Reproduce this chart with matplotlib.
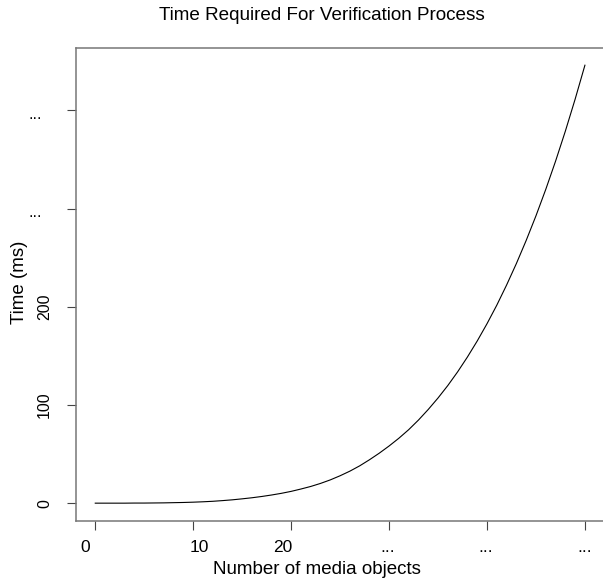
import matplotlib
matplotlib.use("Agg")
import matplotlib.pyplot as plt
import matplotlib.transforms as mtransforms

# data
n_objects = list(range(0, 51))
time_ms = [0, 0, 0, 0, 0.1, 0.1, 0.2, 0.3, 0.5, 0.7,
           1.0, 1.4, 1.9, 2.6, 3.4, 4.4, 5.5, 6.8, 8.3, 10.0,
           12.0, 14.4, 17.0, 20.1, 23.7, 27.9, 32.6, 38.0, 44.2, 50.9,
           58.2, 66.1, 74.8, 84.6, 95.4, 107.1, 119.8, 133.7, 148.8, 165.1,
           182.7, 201.6, 222.1, 244.0, 267.5, 292.6, 319.5, 348.2, 378.8, 411.4,
           446.0]

x_ticks = [0, 10, 20, 30, 40, 50]
x_tick_labels = ['0', '10', '20', '...', '...', '...']
y_ticks = [0, 100, 200, 300, 400]
y_tick_labels = ['0', '100', '200', '...', '...']

# small pixel shifts of the x tick labels, as in the reference
x_label_shift = [-10, 6, -8, -1, -1, 0]

plt.rcParams['font.family'] = ['Liberation Sans', 'DejaVu Sans']

fig = plt.figure(figsize=(6.03, 5.83), dpi=100)
ax = fig.add_axes([0.1255, 0.1069, 0.877, 0.8113])

ax.plot(n_objects, time_ms, color='black', linewidth=0.8)

ax.set_xlim(-2, 52)
ax.set_ylim(-17.84, 463.84)

for s in ['left', 'bottom', 'top']:
    ax.spines[s].set_color('#777777')
    ax.spines[s].set_linewidth(1.1)
ax.spines['right'].set_visible(False)

ax.set_xticks(x_ticks)
ax.set_yticks(y_ticks)
ax.set_xticklabels([])
ax.set_yticklabels([])
ax.tick_params(direction='out', length=6.5, width=0.8, color='#444444')

# x tick labels
for xv, lab, dx in zip(x_ticks, x_tick_labels, x_label_shift):
    tr = mtransforms.offset_copy(ax.get_xaxis_transform(), fig=fig, x=dx, y=-27, units='dots')
    ax.text(xv, 0, lab, transform=tr, ha='center', va='center', fontsize=12.5)

# y tick labels: numbers rotated, dots left flat
for yv, lab in zip(y_ticks, y_tick_labels):
    if lab == '...':
        tr = mtransforms.offset_copy(ax.get_yaxis_transform(), fig=fig, x=-40, y=-4, units='dots')
        ax.text(0, yv, lab, transform=tr, ha='center', va='center', fontsize=11.5)
    else:
        tr = mtransforms.offset_copy(ax.get_yaxis_transform(), fig=fig, x=-31, y=0, units='dots')
        ax.text(0, yv, lab, transform=tr, ha='center', va='center', rotation=90, fontsize=11.5)

fig.text(322 / 603, 1 - 16 / 583, 'Time Required For Verification Process',
         ha='center', va='center', fontsize=13.6)
fig.text(317 / 603, 1 - 570 / 583, 'Number of media objects',
         ha='center', va='center', fontsize=13.5)
fig.text(20 / 603, 1 - 282 / 583, 'Time (ms)', ha='center', va='center',
         rotation=90, fontsize=13.5)

fig.savefig('out.png', dpi=100)
